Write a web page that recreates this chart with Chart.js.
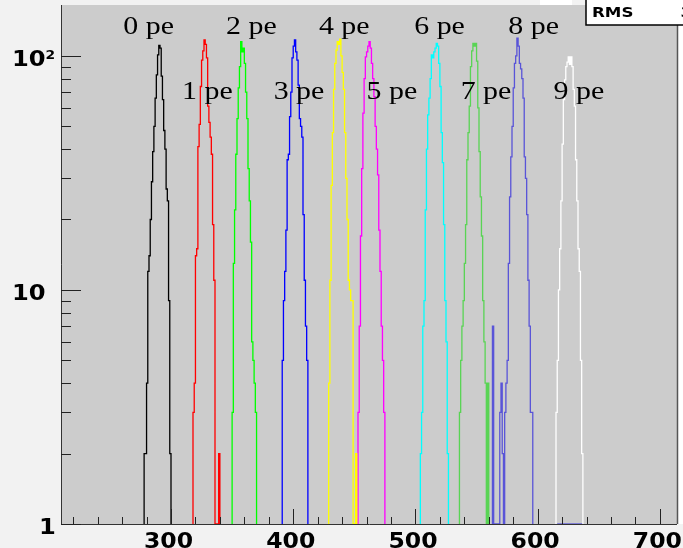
<!DOCTYPE html>
<html>
<head>
<meta charset="utf-8">
<script src="https://cdn.jsdelivr.net/npm/chart.js@4"></script>
<style>
  body { margin: 0; background: #f2f2f2; }
  canvas { display: block; }
</style>
</head>
<body>
<canvas id="myChart" width="683" height="548"></canvas>
<script>
/* Spectrum data: counts per ADC channel, one histogram per photoelectron peak */

const peLabels = ['0 pe', '1 pe', '2 pe', '3 pe', '4 pe', '5 pe', '6 pe', '7 pe', '8 pe', '9 pe'];
const binStart = [278, 318, 350, 391, 429, 453, 504, 536, 563, 615, 616];

const pe0 = [2, 2, 4, 12, 14, 20, 29, 39, 50, 66, 83, 101, 111, 108, 82, 65, 48, 40, 27, 24, 9, 2];
const pe1 = [3, 4, 14, 15, 41, 51, 74, 96, 105, 117, 112, 98, 61, 52, 45, 38, 19, 11, 0, 0, 0, 2];
const pe2 = [3, 13, 22, 38, 54, 73, 90, 115, 104, 108, 93, 70, 54, 33, 24, 16, 6, 5, 4, 3];
const pe3 = [5, 9, 12, 18, 36, 38, 55, 70, 98, 110, 117, 104, 96, 75, 54, 50, 45, 21, 11, 7, 5];
const pe4 = [4, 11, 28, 47, 72, 93, 106, 115, 112, 118, 100, 85, 72, 47, 30, 20, 11, 10, 9, 9, 0, 0, 2];
const pe5 = [3, 7, 17, 33, 57, 80, 99, 104, 110, 115, 108, 93, 80, 67, 50, 40, 31, 18, 12, 7, 5, 3];
const pe6 = [2, 3, 7, 9, 22, 40, 56, 66, 80, 101, 98, 104, 108, 113, 110, 93, 74, 47, 35, 19, 9, 6, 2];
const pe7 = [3, 5, 7, 9, 13, 19, 36, 47, 61, 90, 105, 113, 110, 113, 95, 60, 39, 25, 17, 9, 6, 4, 0, 4];
const pe8 = [7, 0, 0, 0, 0, 0, 3, 4, 2, 0, 3, 4, 5, 13, 25, 37, 50, 73, 93, 100, 119, 110, 93, 88, 80, 66, 37, 30, 21, 11, 7, 3, 3];
const pe9 = [3, 5, 10, 15, 24, 42, 65, 79, 90, 94, 99, 92, 99, 90, 72, 61, 36, 24, 15, 12, 5, 2];
const pe10 = [1, 1, 1, 1, 1, 1, 1, 1, 1, 1, 1, 1, 1, 1, 1, 1, 1, 1, 1, 1, 1];

const peColors = ['#000000', '#ff0000', '#00ff00', '#0000ff', '#ffff00', '#ff00ff', '#00ffff', '#59d454', '#5954d8', '#ffffff', '#5954d8'];

// label anchors in data units (channel, counts)
const labelX = [261, 309, 345, 384, 421, 460, 499, 537, 576, 613];
const labelY = [124, 65.5, 124, 65.5, 124, 65.5, 124, 65.5, 124, 65.5];

const xTicks = [300, 400, 500, 600, 700];
const yTicks = [1, 10, 100];
const yLabels = ['1', '10', '10'];

const allCounts = [pe0, pe1, pe2, pe3, pe4, pe5, pe6, pe7, pe8, pe9, pe10];

/* Histogram outline: rise at the first edge, one step per bin, fall at the last edge */
function outline(start, counts) {
    const pts = [{x: start, y: 1}];
    counts.forEach((c, i) => pts.push({x: start + i, y: c > 1 ? c : 1}));
    pts.push({x: start + counts.length, y: 1});
    return pts;
}

const datasets = allCounts.map((counts, i) => ({
    label: peLabels[i] || '',
    data: outline(binStart[i], counts),
    borderColor: peColors[i],
    borderWidth: 1.3,
    stepped: 'before',
    pointRadius: 0,
    fill: false,
    borderJoinStyle: 'miter',
}));

const frame = {
    id: 'frame',
    beforeDraw(chart) {
        const {ctx, chartArea: a} = chart;
        ctx.save();
        ctx.fillStyle = '#f2f2f2';
        ctx.fillRect(0, 0, chart.width, chart.height);
        ctx.fillStyle = '#cccccc';
        ctx.fillRect(a.left, a.top, a.right - a.left, a.bottom - a.top);
        ctx.restore();
    },
    afterDraw(chart) {
        const {ctx, chartArea: a} = chart;
        const xs = chart.scales.x, ys = chart.scales.y;
        ctx.save();

        // peak labels
        ctx.fillStyle = '#000';
        ctx.font = '26px "Liberation Serif"';
        ctx.textBaseline = 'alphabetic';
        peLabels.forEach((t, i) => {
            ctx.save();
            ctx.translate(xs.getPixelForValue(labelX[i]), ys.getPixelForValue(labelY[i]));
            ctx.scale(1.15, 1);
            ctx.fillText(t, 0, 0);
            ctx.restore();
        });

        // right side of the pad
        ctx.fillStyle = '#ffffff';
        ctx.fillRect(a.right + 1, 0, chart.width - a.right, a.bottom);
        ctx.strokeStyle = '#555';
        ctx.lineWidth = 1.5;
        ctx.beginPath();
        ctx.moveTo(a.right + 0.5, a.top);
        ctx.lineTo(a.right + 0.5, a.bottom);
        ctx.stroke();

        // axes
        ctx.lineWidth = 1;
        ctx.strokeStyle = '#333';
        ctx.beginPath();
        ctx.moveTo(a.left + 0.5, a.top);
        ctx.lineTo(a.left + 0.5, a.bottom + 0.5);
        ctx.lineTo(a.right, a.bottom + 0.5);
        ctx.stroke();

        ctx.strokeStyle = '#222';
        ctx.beginPath();
        for (let v = 220; v <= 700; v += 20) {
            const px = Math.round(xs.getPixelForValue(v)) + 0.5;
            const len = v % 100 === 0 ? 15 : 7;
            ctx.moveTo(px, a.bottom);
            ctx.lineTo(px, a.bottom - len);
        }
        for (let d = 1; d <= 100; d *= 10) {
            for (let m = 1; m <= 9; m++) {
                const v = d * m;
                if (v > ys.max) break;
                const py = Math.round(ys.getPixelForValue(v)) + 0.5;
                const len = m === 1 ? 20 : 10;
                ctx.moveTo(a.left, py);
                ctx.lineTo(a.left + len, py);
            }
        }
        ctx.stroke();

        // tick labels
        ctx.fillStyle = '#000';
        ctx.font = 'bold 21px "DejaVu Sans"';
        ctx.textAlign = 'center';
        xTicks.forEach(v => {
            ctx.save();
            ctx.translate(xs.getPixelForValue(v) - 2.5, a.bottom + 23.5);
            ctx.scale(1.12, 1);
            ctx.fillText(String(v), 0, 0);
            ctx.restore();
        });
        ctx.textAlign = 'left';
        const yLeft = [39, 12, 12];
        yTicks.forEach((v, i) => {
            ctx.save();
            ctx.translate(yLeft[i], ys.getPixelForValue(v) + 10);
            ctx.scale(1.15, 1);
            ctx.font = 'bold 21px "DejaVu Sans"';
            ctx.fillText(yLabels[i], 0, 0);
            if (v === 100) {
                const w = ctx.measureText(yLabels[i]).width;
                ctx.font = 'bold 12px "DejaVu Sans"';
                ctx.fillText('2', w, -7);
            }
            ctx.restore();
        });

        // statistics box, mostly outside the canvas
        ctx.fillStyle = '#ffffff';
        ctx.fillRect(540, 0, 32, a.top);
        ctx.fillRect(586, -2, 120, 27);
        ctx.strokeStyle = '#000';
        ctx.lineWidth = 1.5;
        ctx.strokeRect(586, -2, 120, 27);
        ctx.fillStyle = '#000';
        ctx.font = 'bold 14.5px "DejaVu Sans"';
        ctx.save();
        ctx.translate(592, 17);
        ctx.scale(1.15, 1);
        ctx.fillText('RMS', 0, 0);
        ctx.fillText('3', 77, 0);
        ctx.restore();

        ctx.restore();
    }
};

const ctx = document.getElementById('myChart');
new Chart(ctx, {
    type: 'line',
    data: {datasets},
    options: {
        responsive: false,
        animation: false,
        layout: {padding: {left: 61, right: 6, top: 5, bottom: 24}},
        scales: {
            x: {type: 'linear', min: 210, max: 714, display: false},
            y: {type: 'logarithmic', min: 1, max: 165, display: false}
        },
        plugins: {
            legend: {display: false},
            tooltip: {enabled: false}
        }
    },
    plugins: [frame]
});
</script>
</body>
</html>
